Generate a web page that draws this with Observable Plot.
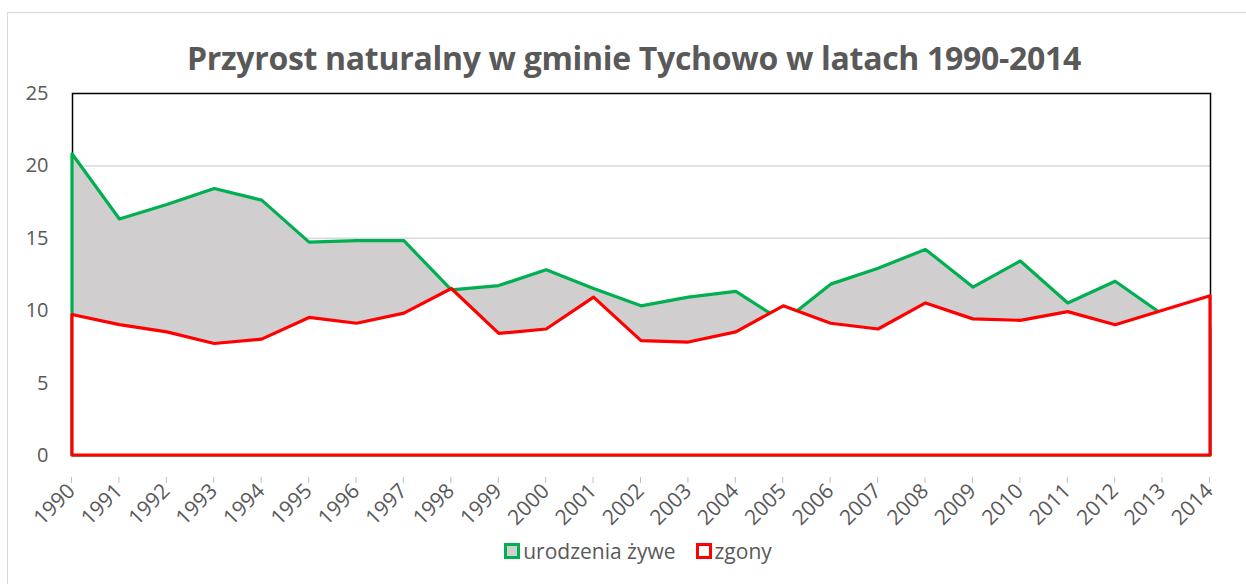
<!DOCTYPE html>
<html><head><meta charset="utf-8">
<script src="https://cdn.jsdelivr.net/npm/d3@7"></script>
<script src="https://cdn.jsdelivr.net/npm/@observablehq/plot@0.6"></script>
<style>
body{margin:0;background:#fff;width:1246px;height:584px;overflow:hidden;position:relative;font-family:"Open Sans",sans-serif;color:#595959;}
#frame{position:absolute;left:7px;top:12px;width:1300px;height:700px;border:1px solid #d9d9d9;}
#title{position:absolute;top:37px;left:0;width:1268px;text-align:center;font-weight:bold;font-size:32px;line-height:42px;letter-spacing:-0.3px;}
#chart{position:absolute;left:0;top:80px;}
#legend{position:absolute;top:535px;left:0;width:1276px;text-align:center;font-size:21px;line-height:32px;}
.sw{display:inline-block;width:10px;height:10px;border:3px solid;vertical-align:0px;margin-right:3px;}
.item{margin:0 10px;}
</style>
</head><body>
<div id="frame"></div>
<div id="title">Przyrost naturalny w gminie Tychowo w latach 1990-2014</div>
<div id="chart"></div>
<div id="legend"><span class="item"><span class="sw" style="border-color:#00b050;background:#d0cece"></span>urodzenia żywe</span><span class="item"><span class="sw" style="border-color:#ff0000;background:#fff"></span>zgony</span></div>
<script>
const years = [1990,1991,1992,1993,1994,1995,1996,1997,1998,1999,2000,2001,2002,2003,2004,2005,2006,2007,2008,2009,2010,2011,2012,2013,2014];
const births = [20.8,16.3,17.3,18.4,17.6,14.7,14.8,14.8,11.4,11.7,12.8,11.5,10.3,10.9,11.3,9.2,11.8,12.9,14.2,11.6,13.4,10.5,12.0,9.7,8.8];
const deaths = [9.7,9.0,8.5,7.7,8.0,9.5,9.1,9.8,11.5,8.4,8.7,10.9,7.9,7.8,8.5,10.3,9.1,8.7,10.5,9.4,9.3,9.9,9.0,10.0,11.0];
const yTicks = [0,5,10,15,20,25];
const gridTicks = [5,10,15,20];

const table = years.map((y,i)=>({year:y, births:births[i], deaths:deaths[i]}));

const chart = Plot.plot({
  width:1246, height:470,
  marginLeft:72, marginRight:36, marginTop:13, marginBottom:95,
  style:{fontFamily:"'Open Sans', sans-serif", color:"#595959", background:"transparent"},
  x:{type:"linear", domain:[1990,2014]},
  y:{domain:[0,25]},
  marks:[
    Plot.gridY(gridTicks, {stroke:"#d9d9d9", strokeOpacity:1, strokeWidth:1.5}),
    Plot.frame({stroke:"#000", strokeWidth:1.5}),
    Plot.areaY(table, {x:"year", y:"births", fill:"#d0cece", stroke:"#00b050", strokeWidth:3.2}),
    Plot.areaY(table, {x:"year", y:"deaths", fill:"#ffffff", stroke:"#ff0000", strokeWidth:3.2}),
    Plot.axisX({ticks:years, tickFormat:d=>String(d), tickRotate:-45, tickSize:6, tickPadding:4, dx:-1, dy:22, fontSize:21, fill:"#595959", stroke:"#bfbfbf", label:null}),
    Plot.axisY({ticks:yTicks, tickSize:0, tickPadding:24, fontSize:20, fill:"#595959", label:null})
  ]
});
document.getElementById("chart").appendChild(chart);
</script>
</body></html>
